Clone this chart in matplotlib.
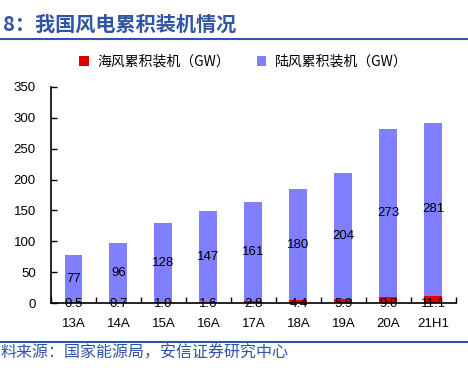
import matplotlib
matplotlib.use("Agg")
import matplotlib.pyplot as plt
import numpy as np

plt.rcParams['font.family'] = ['Liberation Sans', 'Noto Sans CJK SC', 'DejaVu Sans']

categories = ["13A", "14A", "15A", "16A", "17A", "18A", "19A", "20A", "21H1"]
offshore = [0.5, 0.7, 1.0, 1.6, 2.8, 4.4, 5.9, 9.0, 11.1]
onshore = [77, 96, 128, 147, 161, 180, 204, 273, 281]
yticks = [0, 50, 100, 150, 200, 250, 300, 350]

red = "#E00000"
blue = "#7F7FFF"
navy = "#2F55A4"

fig = plt.figure(figsize=(4.68, 3.68), dpi=100)
ax = fig.add_axes([0.109, 0.1766, 0.865, 0.587])

x = np.arange(len(categories))
ax.bar(x, offshore, width=0.4, color=red, label="海风累积装机（GW）", zorder=2)
ax.bar(x, onshore, width=0.4, bottom=offshore, color=blue, label="陆风累积装机（GW）", zorder=2)

for xi, o, n in zip(x, offshore, onshore):
    ax.text(xi, o + n / 2, f"{n:g}", ha="center", va="center", fontsize=9.5, color="black", zorder=3)
    ax.text(xi, -2, f"{o:.1f}", ha="center", va="center", fontsize=9.5, color="black", zorder=3)

ax.set_xlim(-0.5, len(categories) - 0.5)
ax.set_ylim(0, 350)
ax.set_yticks(yticks)
ax.set_xticks(x)
ax.set_xticklabels(categories, fontsize=9.5)
ax.set_xticks(np.arange(-0.5, len(categories), 1.0), minor=True)
ax.tick_params(axis="x", which="major", length=0, pad=11)
ax.tick_params(axis="x", which="minor", direction="in", length=4, width=1)
ax.tick_params(axis="y", direction="in", length=4, width=1, labelsize=9.5, pad=11)
ax.spines["top"].set_visible(False)
ax.spines["right"].set_visible(False)
ax.spines["left"].set_linewidth(1.2)
ax.spines["bottom"].set_linewidth(1.2)
ax.spines["bottom"].set_zorder(2.5)

fig.legend(loc="center", bbox_to_anchor=(0.52, 0.832), ncol=2, frameon=False,
           handlelength=0.7, handleheight=0.7, columnspacing=1.9,
           handletextpad=0.6, prop={'family': ['Noto Sans CJK SC'], 'size': 10})

fig.text(0.006, 0.935, "8：我国风电累积装机情况", fontsize=14.5, fontweight="bold", color=navy,
         family=['Noto Sans CJK SC'], ha="left", va="center")
fig.add_artist(plt.Line2D([0, 1], [0.893, 0.893], color=navy, linewidth=1.5, transform=fig.transFigure))
fig.add_artist(plt.Line2D([0, 1], [0.071, 0.071], color=navy, linewidth=1.5, transform=fig.transFigure))
fig.text(0.002, 0.04, "料来源：国家能源局，安信证券研究中心", fontsize=11.5, color=navy, style="italic",
         family=['Noto Sans CJK SC'], ha="left", va="center")

fig.savefig("out.png", dpi=100)
